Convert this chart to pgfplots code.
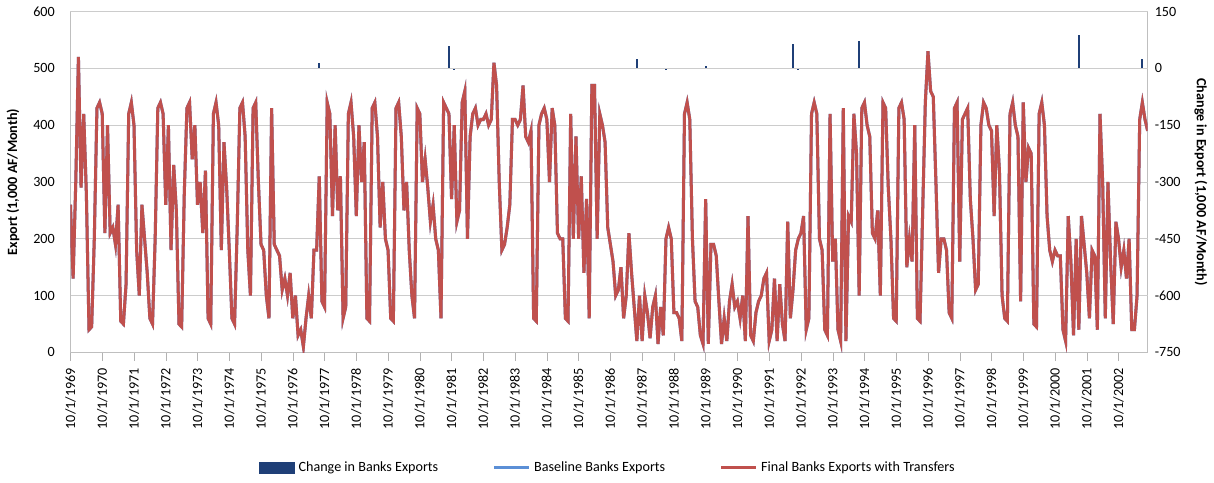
\documentclass[border=0pt]{standalone}
\usepackage{pgfplots}
\pgfplotsset{compat=1.18}
\usepackage{pgfplotstable}
\usepackage{fontspec}
\setmainfont{Carlito}
\definecolor{dblue}{HTML}{1F3F77}
\definecolor{lblue}{HTML}{5B8FD6}
\definecolor{cred}{HTML}{C0504D}
\pgfplotstableread[row sep=\\]{
y\\
260\\130\\300\\520\\290\\420\\280\\40\\45\\200\\430\\440\\
420\\210\\400\\210\\220\\190\\260\\55\\50\\120\\420\\440\\
400\\180\\100\\260\\200\\140\\60\\50\\200\\430\\440\\420\\
260\\400\\180\\330\\250\\50\\45\\280\\430\\440\\340\\400\\
260\\300\\210\\320\\60\\50\\420\\440\\400\\180\\370\\290\\
180\\60\\50\\220\\430\\440\\380\\180\\100\\430\\440\\300\\
190\\180\\100\\60\\430\\190\\180\\170\\110\\130\\100\\140\\
60\\100\\30\\40\\10\\60\\100\\60\\180\\180\\310\\90\\
80\\440\\420\\240\\400\\250\\310\\60\\80\\420\\440\\380\\
240\\400\\300\\370\\60\\55\\430\\440\\380\\220\\300\\200\\
180\\60\\55\\430\\440\\380\\250\\300\\180\\100\\60\\430\\
420\\300\\340\\290\\230\\260\\200\\180\\60\\440\\430\\420\\
270\\400\\230\\250\\440\\460\\200\\380\\420\\430\\400\\410\\
410\\420\\400\\410\\510\\470\\300\\180\\190\\220\\260\\410\\
410\\400\\410\\470\\380\\370\\390\\60\\55\\400\\420\\430\\
410\\300\\430\\400\\210\\200\\200\\60\\55\\420\\200\\380\\
200\\310\\140\\270\\60\\470\\470\\200\\420\\400\\370\\220\\
190\\160\\100\\110\\150\\60\\100\\210\\140\\80\\20\\100\\
20\\100\\70\\25\\80\\100\\15\\80\\30\\200\\220\\200\\
70\\70\\60\\20\\420\\440\\410\\200\\90\\80\\30\\15\\
270\\15\\190\\190\\170\\90\\15\\60\\20\\90\\120\\80\\
90\\60\\100\\20\\240\\30\\20\\70\\90\\100\\130\\140\\
20\\40\\130\\20\\120\\50\\20\\230\\60\\110\\180\\200\\
210\\240\\40\\60\\420\\440\\420\\200\\180\\40\\30\\420\\
160\\200\\40\\20\\430\\20\\240\\230\\420\\350\\100\\430\\
440\\400\\380\\210\\200\\250\\100\\440\\430\\290\\200\\60\\
55\\430\\440\\410\\150\\200\\160\\400\\60\\55\\250\\440\\
530\\460\\450\\300\\140\\200\\200\\180\\70\\60\\430\\440\\
160\\410\\420\\430\\270\\200\\110\\120\\400\\440\\430\\400\\
390\\240\\400\\320\\100\\60\\55\\420\\440\\400\\380\\90\\
440\\300\\360\\350\\50\\45\\420\\440\\400\\240\\180\\160\\
180\\170\\170\\40\\20\\240\\160\\30\\200\\40\\240\\190\\
140\\60\\180\\170\\40\\420\\300\\60\\300\\160\\50\\230\\
200\\150\\180\\130\\200\\40\\40\\100\\410\\440\\410\\390\\
}\final
\begin{document}
\begin{tikzpicture}[font=\fontsize{7}{8}\selectfont]
\begin{axis}[
  width=534pt, height=169pt, scale only axis,
  xmin=0, xmax=407,
  ymin=-750, ymax=150, ytick={-750,-600,-450,-300,-150,0,150},
  axis y line*=right, axis x line=none,
  ylabel={\bfseries Change in Export (1,000 AF/Month)},
  ylabel style={rotate=180},
  y tick style={draw=none},
  /pgf/number format/assume math mode=true,
  y axis line style={draw=gray!50},
]
\addplot[ycomb, dblue, line width=1.1pt] coordinates {
(70,2)(84,-3)(94,14)(120,-2)(143,60)(145,-4)(200,-2)(214,25)(216,-3)(225,-4)(235,-3)(240,5)(255,-3)(265,-3)(273,65)(275,-4)(298,72)(300,-3)(381,88)(383,-3)(392,-3)(405,26)};
\end{axis}
\begin{axis}[
  width=534pt, height=169pt, scale only axis,
  xmin=0, xmax=407, ymin=0, ymax=600, ytick={0,100,...,600},
  axis y line*=left, axis x line*=bottom,
  ymajorgrids, grid style={gray!40},
  xtick={0,12,...,396},
  xticklabels={10/1/1969,10/1/1970,10/1/1971,10/1/1972,10/1/1973,10/1/1974,10/1/1975,10/1/1976,10/1/1977,10/1/1978,10/1/1979,10/1/1980,10/1/1981,10/1/1982,10/1/1983,10/1/1984,10/1/1985,10/1/1986,10/1/1987,10/1/1988,10/1/1989,10/1/1990,10/1/1991,10/1/1992,10/1/1993,10/1/1994,10/1/1995,10/1/1996,10/1/1997,10/1/1998,10/1/1999,10/1/2000,10/1/2001,10/1/2002},
  xticklabel style={rotate=90, anchor=east},
  x tick style={gray!60}, xtick pos=bottom, tick align=outside,
  y tick style={draw=none},
  ylabel={\bfseries Export (1,000 AF/Month)},
  /pgf/number format/assume math mode=true,
  axis line style={gray!50},
  legend style={at={(0.5,-0.295)}, anchor=north, draw=none, legend columns=3,
    /tikz/every even column/.append style={column sep=25pt}},
  legend cell align=left,
]
\addlegendimage{area legend, fill=dblue, draw=dblue}
\addlegendentry{Change in Banks Exports}
\addplot[lblue, line width=1.5pt] table[x expr=\coordindex, y=y]{\final};
\addlegendentry{Baseline Banks Exports}
\addplot[cred, line width=1.5pt] table[x expr=\coordindex, y=y]{\final};
\addlegendentry{Final Banks Exports with Transfers}
\end{axis}
\end{tikzpicture}
\end{document}
